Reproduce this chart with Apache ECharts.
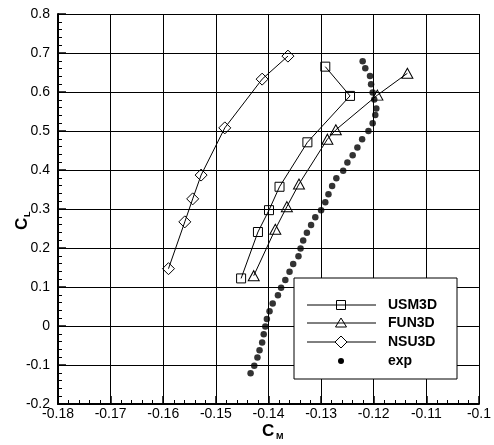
<!DOCTYPE html>
<html>
<head>
<meta charset="utf-8">
<script src="https://cdn.jsdelivr.net/npm/echarts@6/dist/echarts.min.js"></script>
<style>
  html, body { margin: 0; padding: 0; background: #fff; }
  #chart { width: 494px; height: 445px; }
</style>
</head>
<body>
<div id="chart"></div>
<script>
// Pitching moment (CM) vs lift coefficient (CL) for three CFD codes and experiment
const usm3dCM = [-0.1452, -0.1420, -0.1399, -0.1379, -0.1326, -0.1245, -0.1292];
const usm3dCL = [0.122, 0.241, 0.297, 0.357, 0.471, 0.590, 0.665];

const fun3dCM = [-0.1428, -0.1387, -0.1365, -0.1342, -0.1288, -0.1272, -0.1193, -0.1136];
const fun3dCL = [0.129, 0.248, 0.306, 0.364, 0.479, 0.503, 0.592, 0.648];

const nsu3dCM = [-0.1590, -0.1559, -0.1544, -0.1528, -0.1483, -0.1412, -0.1363];
const nsu3dCL = [0.147, 0.267, 0.326, 0.387, 0.508, 0.633, 0.692];

const expCM = [-0.1221, -0.1216, -0.1207, -0.1205, -0.1202, -0.1199, -0.1195, -0.1197, -0.1202, -0.1210,
               -0.1222, -0.1231, -0.1240, -0.1250, -0.1258, -0.1271, -0.1279, -0.1286, -0.1292, -0.1300,
               -0.1311, -0.1319, -0.1327, -0.1334, -0.1339, -0.1343, -0.1353, -0.1360, -0.1368, -0.1376,
               -0.1382, -0.1392, -0.1398, -0.1403, -0.1406, -0.1409, -0.1412, -0.1417, -0.1421, -0.1427,
               -0.1434];
const expCL = [0.679, 0.661, 0.641, 0.620, 0.599, 0.581, 0.558, 0.541, 0.520, 0.500,
               0.479, 0.458, 0.438, 0.419, 0.398, 0.379, 0.359, 0.338, 0.317, 0.297,
               0.279, 0.259, 0.239, 0.219, 0.199, 0.179, 0.159, 0.139, 0.118, 0.098,
               0.079, 0.058, 0.038, 0.018, -0.001, -0.021, -0.042, -0.062, -0.081, -0.102,
               -0.121];

const seriesNames = ['USM3D', 'FUN3D', 'NSU3D', 'exp'];

const pairs = (xs, ys) => xs.map((x, i) => [x, ys[i]]);
const fmt = v => String(+v.toFixed(2));

const FONT = 'Arial, "Liberation Sans", Helvetica, sans-serif';

function axisCommon(labelMargin) {
  return {
    axisLine: { show: true, onZero: false, lineStyle: { color: '#000', width: 2 } },
    axisTick: { show: true, inside: true, length: 8, lineStyle: { color: '#000', width: 1.5 } },
    minorTick: { show: true, splitNumber: 5, length: 4, lineStyle: { color: '#000', width: 1 } },
    splitLine: { show: true, lineStyle: { color: '#000', width: 1 } },
    axisLabel: { color: '#000', fontSize: 14, fontFamily: FONT, margin: labelMargin, formatter: fmt }
  };
}

function curve(name, xs, ys, symbol, size) {
  return {
    name, type: 'line', data: pairs(xs, ys),
    symbol, symbolSize: size, showAllSymbol: true,
    lineStyle: { color: '#000', width: 1 },
    itemStyle: { color: 'transparent', borderColor: '#000', borderWidth: 1 },
    z: 3, animation: false
  };
}

// Legend box, drawn as graphics
const legX = 294, legY = 278, legW = 163, legH = 101;
const rowY = [305, 323, 342, 361];
const lineX0 = 307, lineX1 = 376, symX = 341, textX = 388;

const legendGraphics = [
  { type: 'rect', shape: { x: legX, y: legY, width: legW, height: legH },
    style: { fill: '#fff', stroke: '#000', lineWidth: 1 }, z: 10 },
  // line segments for the three curves
  ...[0, 1, 2].map(i => ({ type: 'line', shape: { x1: lineX0, y1: rowY[i], x2: lineX1, y2: rowY[i] },
    style: { stroke: '#000', lineWidth: 1 }, z: 11 })),
  { type: 'rect', shape: { x: symX - 4.5, y: rowY[0] - 4.5, width: 9, height: 9 },
    style: { fill: 'transparent', stroke: '#000', lineWidth: 1 }, z: 12 },
  { type: 'polygon', shape: { points: [[symX, rowY[1] - 5], [symX + 5.5, rowY[1] + 4], [symX - 5.5, rowY[1] + 4]] },
    style: { fill: 'transparent', stroke: '#000', lineWidth: 1 }, z: 12 },
  { type: 'polygon', shape: { points: [[symX, rowY[2] - 6], [symX + 6, rowY[2]], [symX, rowY[2] + 6], [symX - 6, rowY[2]]] },
    style: { fill: '#fff', stroke: '#000', lineWidth: 1 }, z: 12 },
  { type: 'circle', shape: { cx: symX, cy: rowY[3], r: 3 }, style: { fill: '#000' }, z: 12 },
  ...seriesNames.map((n, i) => ({ type: 'text', x: textX, y: rowY[i],
    style: { text: n, fill: '#000', font: 'bold 14px ' + FONT, textVerticalAlign: 'middle', textAlign: 'left' }, z: 12 }))
];

// Axis titles with subscripts
const titleGraphics = [
  { type: 'text', x: 262, y: 431, style: { text: 'C', fill: '#000', font: 'bold 17px ' + FONT, textVerticalAlign: 'middle' } },
  { type: 'text', x: 276, y: 437, style: { text: 'M', fill: '#000', font: 'bold 9px ' + FONT, textVerticalAlign: 'middle' } },
  { type: 'group', x: 22, y: 230, rotation: Math.PI / 2, children: [
    { type: 'text', x: 0, y: 0, style: { text: 'C', fill: '#000', font: 'bold 17px ' + FONT, textVerticalAlign: 'middle' } },
    { type: 'text', x: 13, y: 6, style: { text: 'L', fill: '#000', font: 'bold 9px ' + FONT, textVerticalAlign: 'middle' } }
  ]}
];

const chart = echarts.init(document.getElementById('chart'), null, { renderer: 'canvas' });
chart.setOption({
  animation: false,
  backgroundColor: '#fff',
  grid: { left: 58, right: 15, top: 14, bottom: 41, show: false },
  xAxis: Object.assign({ type: 'value', min: -0.18, max: -0.1, interval: 0.01 }, axisCommon(3)),
  yAxis: Object.assign({ type: 'value', min: -0.2, max: 0.8, interval: 0.1 }, axisCommon(8)),
  series: [
    curve(seriesNames[0], usm3dCM, usm3dCL, 'rect', 9),
    curve(seriesNames[1], fun3dCM, fun3dCL, 'triangle', [11, 10]),
    curve(seriesNames[2], nsu3dCM, nsu3dCL, 'diamond', 12),
    { name: seriesNames[3], type: 'scatter', data: pairs(expCM, expCL),
      symbol: 'circle', symbolSize: 6.5, itemStyle: { color: '#000' }, z: 4, animation: false }
  ],
  graphic: [...legendGraphics, ...titleGraphics]
});
</script>
</body>
</html>
